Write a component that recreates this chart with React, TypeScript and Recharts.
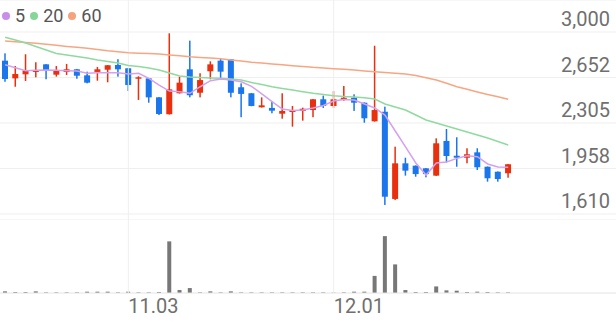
import React from 'react';
import {
    ComposedChart,
    Bar,
    Line,
    XAxis,
    YAxis,
    CartesianGrid,
    ReferenceLine
} from 'recharts';

// trading days shown (Oct 16 – Dec 24)
const dates = [
    '10.16', '10.17', '10.20', '10.21', '10.22', '10.23', '10.24', '10.27', '10.28', '10.29', '10.30', '10.31',
    '11.03', '11.04', '11.05', '11.06', '11.07', '11.10', '11.11', '11.12', '11.13', '11.14',
    '11.17', '11.18', '11.19', '11.20', '11.21', '11.24', '11.25', '11.26', '11.27', '11.28',
    '12.01', '12.02', '12.03', '12.04', '12.05', '12.08', '12.09', '12.10', '12.11', '12.12',
    '12.15', '12.16', '12.17', '12.18', '12.19', '12.22', '12.23', '12.24'
];

const opens = [
    2781, 2646, 2677, 2695, 2753, 2674, 2695, 2715, 2669, 2695, 2712, 2748,
    2723, 2643, 2646, 2501, 2372, 2532, 2715, 2536, 2700, 2781,
    2792, 2578, 2532, 2425, 2420, 2376, 2389, 2397, 2404, 2486,
    2435, 2481, 2498, 2460, 2318, 2391, 1725, 1997, 1979, 1959,
    1903, 2168, 2055, 2040, 2081, 1971, 1933, 1921
];
const highs = [
    2837, 2740, 2830, 2769, 2755, 2740, 2756, 2718, 2697, 2733, 2748, 2792,
    2725, 2662, 2648, 2503, 2990, 2659, 2934, 2685, 2776, 2801,
    2794, 2608, 2534, 2501, 2471, 2532, 2435, 2422, 2488, 2514,
    2549, 2588, 2524, 2462, 2895, 2430, 2124, 2040, 1981, 1961,
    2188, 2259, 2196, 2112, 2112, 1973, 1935, 1992
];
const lows = [
    2620, 2582, 2626, 2654, 2639, 2659, 2672, 2643, 2608, 2628, 2616, 2659,
    2549, 2481, 2460, 2366, 2370, 2530, 2501, 2501, 2639, 2639,
    2501, 2349, 2433, 2423, 2379, 2338, 2277, 2323, 2349, 2420,
    2420, 2475, 2397, 2307, 2316, 1679, 1717, 1903, 1895, 1890,
    1901, 2005, 1971, 1997, 1946, 1857, 1857, 1887
];
const closes = [
    2641, 2679, 2704, 2710, 2704, 2704, 2715, 2666, 2613, 2715, 2746, 2715,
    2595, 2654, 2501, 2374, 2562, 2613, 2517, 2633, 2753, 2697,
    2536, 2527, 2435, 2440, 2399, 2397, 2404, 2414, 2486, 2435,
    2486, 2498, 2460, 2341, 2404, 1742, 1997, 1941, 1915, 1915,
    2150, 2053, 2040, 2066, 1967, 1883, 1877, 1990
];

// moving averages
const ma5 = [
    2750, 2727, 2704, 2707, 2710, 2707, 2704, 2702, 2685, 2689, 2689, 2689,
    2679, 2685, 2646, 2595, 2549, 2544, 2532, 2582, 2628, 2641,
    2633, 2620, 2585, 2527, 2468, 2412, 2400, 2404, 2420, 2439,
    2473, 2485, 2481, 2450, 2420, 2366, 2244, 2122, 2000, 1908,
    2000, 2007, 2035, 2055, 2048, 1992, 1969, 1967
];
const ma20 = [
    2960, 2939, 2916, 2889, 2863, 2836, 2824, 2813, 2801, 2786, 2775, 2763,
    2744, 2737, 2725, 2710, 2687, 2664, 2656, 2653, 2649, 2646,
    2641, 2633, 2614, 2599, 2582, 2569, 2557, 2544, 2532, 2523,
    2514, 2507, 2504, 2498, 2488, 2450, 2427, 2404, 2366, 2328,
    2305, 2282, 2259, 2236, 2213, 2191, 2164, 2137
];
const ma60 = [
    2931, 2925, 2920, 2914, 2906, 2898, 2890, 2883, 2876, 2866, 2857, 2850,
    2842, 2838, 2835, 2832, 2825, 2818, 2811, 2806, 2801, 2796,
    2787, 2778, 2769, 2763, 2756, 2750, 2743, 2737, 2730, 2725,
    2720, 2715, 2709, 2703, 2697, 2691, 2685, 2679, 2668, 2650,
    2633, 2608, 2582, 2562, 2542, 2523, 2505, 2486
];

// volume (relative units)
const volumes = [
    5, 3, 3, 5, 2, 2, 2, 2, 4, 4, 4, 2,
    4, 2, 2, 3, 157, 9, 15, 2, 5, 2,
    5, 2, 2, 2, 2, 2, 2, 2, 2, 2,
    1, 2, 4, 4, 52, 173, 87, 9, 3, 3,
    20, 8, 7, 3, 4, 3, 2, 2
];

const priceTicks = [1610, 1957.5, 2305, 2652.5, 3000];
const priceTickLabels = ['1,610', '1,958', '2,305', '2,652', '3,000'];
const dateTicks = ['11.03', '12.01'];

const legendItems = [
    { label: '5', color: '#c98ee8' },
    { label: '20', color: '#86d69a' },
    { label: '60', color: '#f5a27e' }
];

const TOTAL_SLOTS = 60;
const UP = '#e8300e';
const DOWN = '#1b76eb';
const GRID = '#efefef';
const FONT = 'Roboto, sans-serif';

const rows = Array.from({ length: TOTAL_SLOTS }, (_, i) =>
    i < dates.length
        ? {
            date: dates[i],
            open: opens[i],
            high: highs[i],
            low: lows[i],
            close: closes[i],
            range: [lows[i], highs[i]],
            ma5: ma5[i],
            ma20: ma20[i],
            ma60: ma60[i],
            volume: volumes[i]
        }
        : { date: `_${i}` }
);

// candle drawn inside the [low, high] bar rect
const Candle = (props: any) => {
    const { x, y, width, height, payload } = props;
    if (!payload || payload.open == null) return <g />;
    const { open, close, high, low } = payload;
    const top = Math.min(y, y + height);
    const span = Math.abs(height);
    const k = high === low ? 0 : span / (high - low);
    const bodyTop = top + (high - Math.max(open, close)) * k;
    const bodyH = Math.max(1, Math.abs(open - close) * k);
    const color = close >= open ? UP : DOWN;
    const cx = x + width / 2;
    return (
        <g>
            <rect x={cx - 0.75} y={top} width={1.5} height={Math.max(1, span)} fill={color} />
            <rect x={x} y={bodyTop} width={width} height={bodyH} fill={color} />
        </g>
    );
};

const PriceTick = ({ x, y, payload }: any) => {
    const idx = priceTicks.indexOf(payload.value);
    return (
        <text x={x} y={y - 6} textAnchor="end" fill="#6f6f6f" fontSize={20} fontFamily={FONT}>
            {priceTickLabels[idx]}
        </text>
    );
};

const DateTick = ({ x, y, payload }: any) => {
    if (!dateTicks.includes(payload.value)) return <g />;
    return (
        <text x={x} y={y + 20} textAnchor="start" fill="#6f6f6f" fontSize={20} fontFamily={FONT}>
            {payload.value}
        </text>
    );
};

export default function App() {
    return (
        <div style={{ position: 'absolute', left: 0, top: 0, width: 616, height: 321, background: '#fff', fontFamily: FONT }}>
            <div style={{ position: 'absolute', left: 0, top: 0 }}>
                <ComposedChart width={616} height={220} data={rows} margin={{ top: 0, right: 0, left: 0, bottom: 0 }}>
                    <CartesianGrid vertical={false} stroke={GRID} />
                    <XAxis dataKey="date" hide />
                    <YAxis
                        orientation="right"
                        mirror
                        width={60}
                        domain={[1564.2, 3244.4]}
                        allowDataOverflow
                        ticks={priceTicks}
                        axisLine={false}
                        tickLine={false}
                        tickSize={0}
                        tickMargin={6}
                        interval={0}
                        tick={<PriceTick />}
                    />
                    {dateTicks.map(d => (
                        <ReferenceLine key={d} x={d} stroke={GRID} />
                    ))}
                    <Line type="linear" dataKey="ma60" stroke="#f7a684" strokeWidth={1.5} dot={false} activeDot={false} isAnimationActive={false} />
                    <Line type="linear" dataKey="ma20" stroke="#90da9f" strokeWidth={1.5} dot={false} activeDot={false} isAnimationActive={false} />
                    <Line type="linear" dataKey="ma5" stroke="#d4a0f0" strokeWidth={1.5} dot={false} activeDot={false} isAnimationActive={false} />
                    <Bar dataKey="range" barSize={6} shape={(p: any) => <Candle {...p} />} isAnimationActive={false} />
                </ComposedChart>
            </div>

            <div style={{ position: 'absolute', left: 0, top: 220 }}>
                <ComposedChart width={616} height={101} data={rows} margin={{ top: 0, right: 0, left: 0, bottom: 0 }}>
                    <XAxis
                        dataKey="date"
                        height={28}
                        interval={0}
                        axisLine={{ stroke: '#e4e4e4' }}
                        tickLine={false}
                        tickSize={0}
                        tickMargin={0}
                        tick={<DateTick />}
                    />
                    <YAxis hide domain={[0, 222]} allowDataOverflow />
                    {dateTicks.map(d => (
                        <ReferenceLine key={d} x={d} stroke={GRID} />
                    ))}
                    <Bar dataKey="volume" fill="#777777" barSize={4} isAnimationActive={false} />
                </ComposedChart>
            </div>

            {/* legend */}
            <div style={{ position: 'absolute', left: 2, top: 5, display: 'flex', alignItems: 'center', fontSize: 18, color: '#555', lineHeight: '22px' }}>
                {legendItems.map(item => (
                    <span key={item.label} style={{ display: 'flex', alignItems: 'center', marginRight: 5 }}>
                        <span style={{ width: 8, height: 8, borderRadius: 4, background: item.color, marginRight: 5 }} />
                        {item.label}
                    </span>
                ))}
            </div>
        </div>
    );
}
